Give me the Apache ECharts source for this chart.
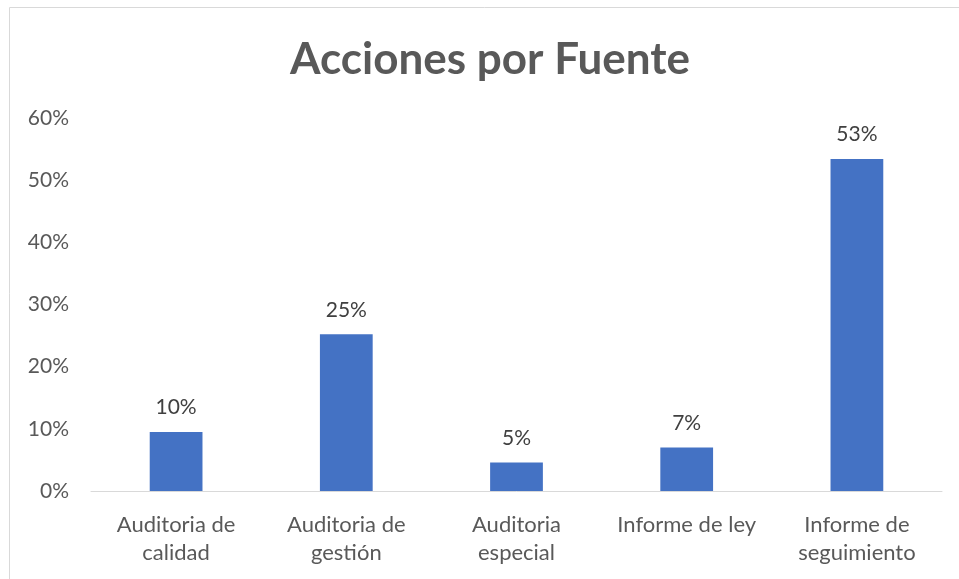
<!DOCTYPE html>
<html>
<head>
<meta charset="utf-8">
<script src="https://cdn.jsdelivr.net/npm/echarts@6/dist/echarts.min.js"></script>
<style>
html,body{margin:0;padding:0;background:#fff;}
#chart{width:959px;height:579px;}
</style>
</head>
<body>
<div id="chart"></div>
<script>
// datos
const categories = ['Auditoria de\ncalidad', 'Auditoria de\ngestión', 'Auditoria\nespecial', 'Informe de ley', 'Informe de\nseguimiento'];
const values = [9.5, 25.2, 4.6, 7.0, 53.4];
const yTicks = [0, 10, 20, 30, 40, 50, 60];

const font = 'Lato, "Open Sans", sans-serif';
const chart = echarts.init(document.getElementById('chart'));

chart.setOption({
    animation:false,
    title:{
        text:'Acciones por Fuente',
        left:285,
        top:33,
        textStyle:{
            fontFamily:font,
            fontSize:44,
            fontWeight:'bold',
            color:'#595959'
        }
    },
    graphic:[{
        type:'rect',
        shape:{x:9.5,y:7.5,width:980,height:600},
        style:{fill:'none',stroke:'#d9d9d9',lineWidth:1},
        silent:true
    }],
    grid:{
        left:91,
        right:17,
        top:118,
        bottom:88
    },
    xAxis:{
        type:'category',
        data:categories,
        axisLine:{lineStyle:{color:'#d9d9d9',width:1}},
        axisTick:{show:false},
        axisLabel:{
            interval:0,
            margin:20,
            fontFamily:font,
            fontSize:22,
            lineHeight:28,
            color:'#595959'
        }
    },
    yAxis:{
        type:'value',
        min:yTicks[0],
        max:yTicks[yTicks.length-1],
        interval:10,
        axisLine:{show:false},
        axisTick:{show:false},
        splitLine:{show:false},
        axisLabel:{
            margin:22,
            fontFamily:font,
            fontSize:21,
            color:'#595959',
            formatter:function(v){ return v+'%'; }
        }
    },
    series:[{
        type:'bar',
        data:values,
        barWidth:'31%',
        itemStyle:{color:'#4472C4'},
        label:{
            show:true,
            position:'top',
            distance:14,
            fontFamily:font,
            fontSize:21,
            color:'#404040',
            formatter:function(p){ return Math.round(p.value)+'%'; }
        }
    }]
});
</script>
</body>
</html>
